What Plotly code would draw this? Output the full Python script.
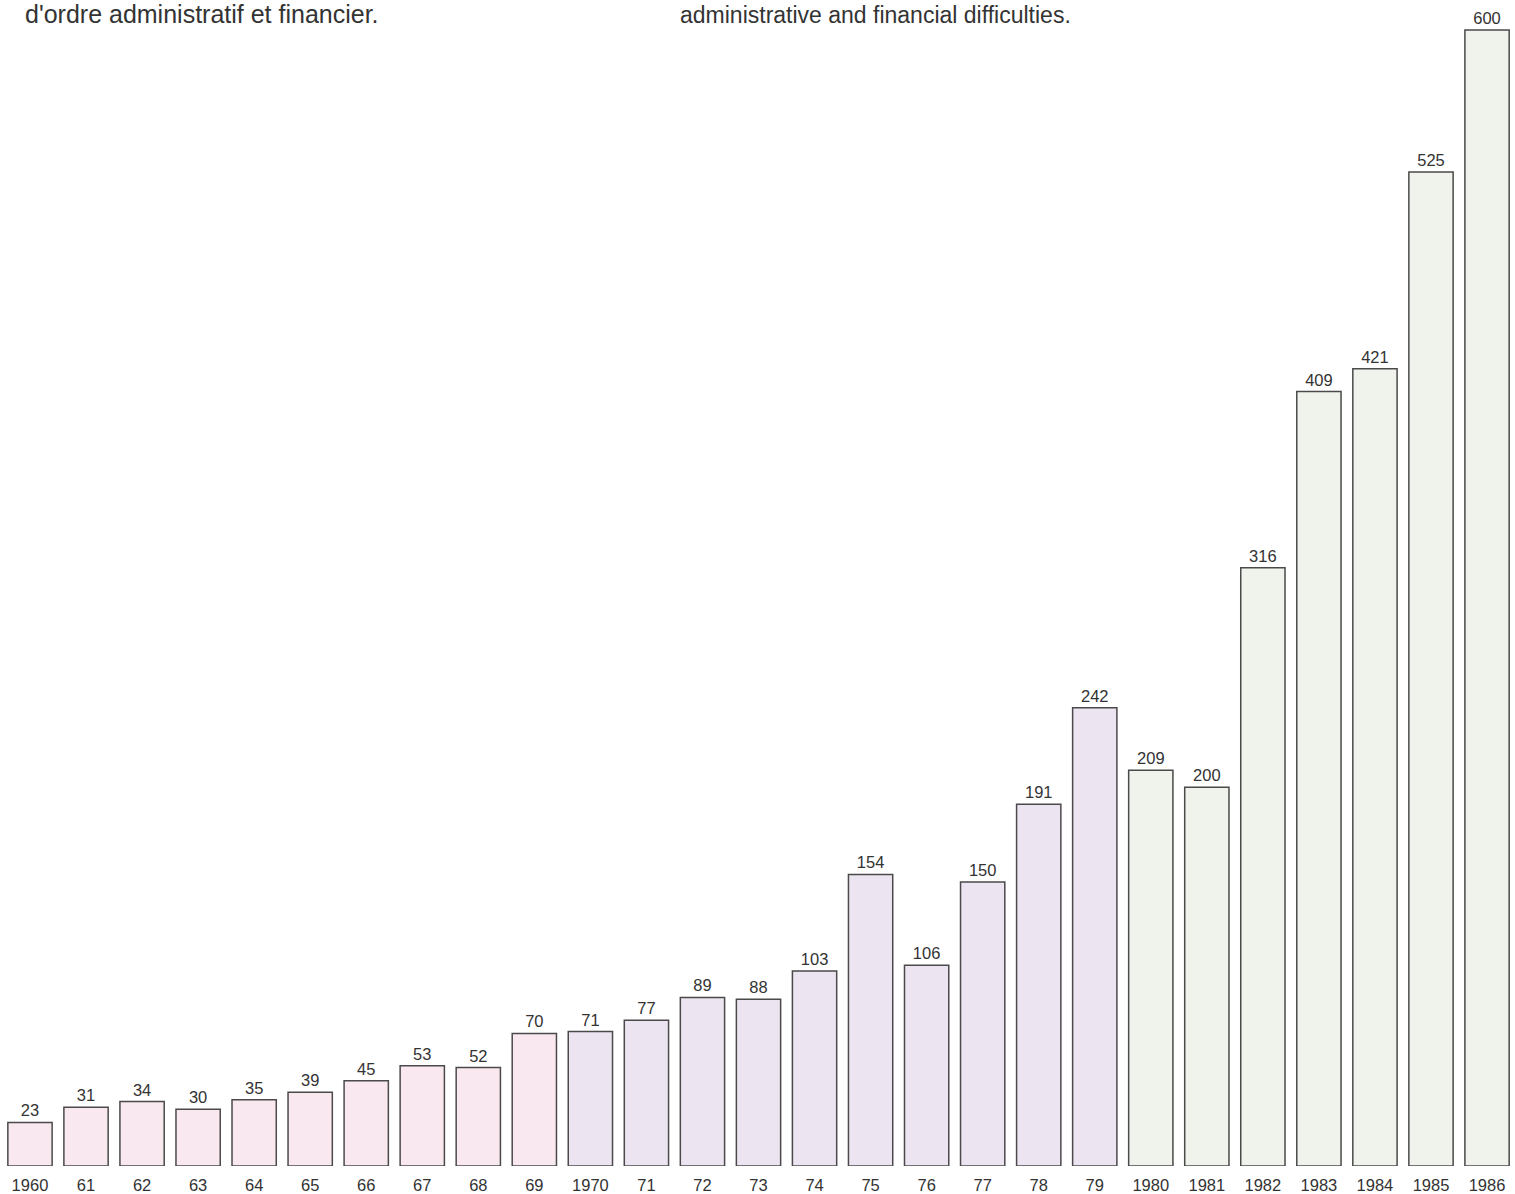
import plotly.graph_objects as go

years = list(range(1960, 1987))
values = [23, 31, 34, 30, 35, 39, 45, 53, 52, 70,
          71, 77, 89, 88, 103, 154, 106, 150, 191, 242,
          209, 200, 316, 409, 421, 525, 600]
tick_labels = ["1960", "61", "62", "63", "64", "65", "66", "67", "68", "69",
               "1970", "71", "72", "73", "74", "75", "76", "77", "78", "79",
               "1980", "1981", "1982", "1983", "1984", "1985", "1986"]

def decade_color(y):
    if y < 1970:
        return "#f9e8ef"
    if y < 1980:
        return "#ece4f1"
    return "#eff3ec"

colors = [decade_color(y) for y in years]
idx = list(range(len(years)))

fig = go.Figure(go.Bar(
    x=idx, y=values,
    marker=dict(color=colors, line=dict(color="#4a4a4a", width=1.5)),
    width=0.79,
    text=[str(v) for v in values],
    textposition="outside",
    textfont=dict(family="Liberation Sans, Arial, sans-serif", size=16.5, color="#333333"),
    cliponaxis=False,
    hoverinfo="skip",
))

fig.update_layout(
    width=1515, height=1194,
    margin=dict(l=0, r=0, t=0, b=25),
    paper_bgcolor="white", plot_bgcolor="white",
    showlegend=False,
    font=dict(family="Liberation Sans, Arial, sans-serif"),
    xaxis=dict(range=[-0.535, 26.499], tickmode="array", tickvals=idx, ticktext=tick_labels,
               showgrid=False, zeroline=False, showline=False,
               ticks="outside", ticklen=4, tickcolor="rgba(0,0,0,0)",
               tickfont=dict(size=16.5, color="#333333")),
    yaxis=dict(range=[0, 615.8], visible=False, showgrid=False, zeroline=False),
    annotations=[
        dict(text="d'ordre administratif et financier.", xref="paper", yref="paper",
             x=23 / 1515, y=0.9745, xanchor="left", yanchor="bottom", showarrow=False,
             font=dict(size=25, color="#333333")),
        dict(text="administrative and financial difficulties.", xref="paper", yref="paper",
             x=678 / 1515, y=0.9745, xanchor="left", yanchor="bottom", showarrow=False,
             font=dict(size=23, color="#333333")),
    ],
)

fig.write_html("out.html")
